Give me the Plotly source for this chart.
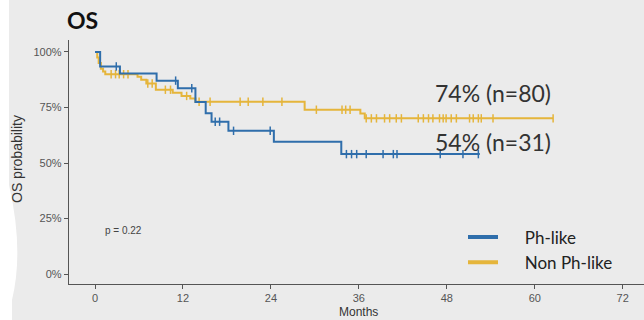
import plotly.graph_objects as go

# Ph-like group (n=31): months where the survival estimate steps, and the level after each step (%)
ph_time = [0, 0.7, 3.4, 8.4, 11.3, 13.7, 15.1, 15.9, 18.2, 24.4, 33.6, 52.5]
ph_surv = [100, 93.5, 90.3, 87.1, 83.7, 77.5, 72.4, 68.6, 64.5, 59.6, 54.0, 54.0]
ph_censor = [2.9, 11.0, 13.2, 16.4, 17.0, 18.9, 23.9, 34.3, 35.0, 35.7, 37.0,
             39.3, 40.7, 41.2, 47.1, 50.2, 52.3]

# Non Ph-like group (n=80)
nph_time = [0, 0.3, 0.5, 0.8, 1.1, 1.4, 5.8, 6.3, 7.0, 8.3, 10.6, 11.8, 13.0, 13.7,
            28.6, 36.2, 36.8, 62.5]
nph_surv = [100, 97.5, 95.0, 92.5, 91.2, 90.0, 88.8, 87.5, 85.8, 83.0, 81.6, 80.2, 79.0,
            77.6, 74.0, 72.3, 70.1, 70.1]
nph_censor = [2.2, 2.8, 3.3, 3.9, 4.5, 7.2, 7.8, 9.6, 10.3, 12.5, 14.2, 15.7, 19.8, 20.9,
              22.9, 25.5, 30.2, 33.7, 34.2, 34.8, 37.0, 37.7, 38.4, 39.5, 40.2, 41.1,
              41.8, 44.1, 44.8, 45.5, 46.1, 47.0, 47.5, 47.9, 48.6, 49.3, 51.1, 51.6,
              52.3, 52.7, 54.3, 62.5]

group_names = ["Ph-like", "Non Ph-like"]
group_labels = ["54% (n=31)", "74% (n=80)"]
x_ticks = [0, 12, 24, 36, 48, 60, 72]
y_ticks = [0, 25, 50, 75, 100]
y_tick_text = ["0%", "25%", "50%", "75%", "100%"]

BLUE = "#2f6eab"
GOLD = "#e5b53b"
BG = "#ebebeb"
AXIS = "#555555"
TICK_FONT = dict(family="Liberation Sans, Arial, sans-serif", size=11, color="#555555")


def level_at(times, surv, t):
    """Survival level of a right-continuous step curve at time t."""
    value = surv[0]
    for ti, si in zip(times, surv):
        if ti <= t:
            value = si
        else:
            break
    return value


fig = go.Figure()

for times, surv, cens, color in [
    (nph_time, nph_surv, nph_censor, GOLD),
    (ph_time, ph_surv, ph_censor, BLUE),
]:
    fig.add_trace(go.Scatter(
        x=times, y=surv, mode="lines", line=dict(color=color, width=2, shape="hv"),
        showlegend=False, hoverinfo="skip",
    ))
    fig.add_trace(go.Scatter(
        x=cens, y=[level_at(times, surv, t) for t in cens], mode="markers",
        marker=dict(symbol="line-ns", size=6, line=dict(color=color, width=1.5)),
        showlegend=False, hoverinfo="skip",
    ))

# legend entries with thicker key lines
for name, color in zip(group_names, [BLUE, GOLD]):
    fig.add_trace(go.Scatter(
        x=[None], y=[None], mode="lines", name="\u00a0" * 5 + name,
        line=dict(color=color, width=4),
    ))

fig.update_layout(
    width=644, height=320,
    margin=dict(l=69, r=0, t=40, b=36),
    paper_bgcolor=BG, plot_bgcolor=BG,
    title=dict(text="<b>OS</b>", x=67 / 644, xanchor="left", y=1 - 21 / 320, yanchor="middle",
               font=dict(family="Lato, sans-serif", size=23, color="#111111")),
    legend=dict(x=(463 - 69) / 575, xanchor="left", y=(284 - 250) / 244, yanchor="middle",
                bgcolor="rgba(0,0,0,0)", font=dict(family="Lato, sans-serif", size=17, color="#222222"),
                itemwidth=30, tracegroupgap=0),
    xaxis=dict(range=[-3.55, 74.9], tickvals=x_ticks, showgrid=False, zeroline=False,
               showline=True, linecolor=AXIS, linewidth=1.3, ticks="outside", ticklen=4,
               tickcolor=AXIS, tickwidth=1.3, tickfont=TICK_FONT),
    yaxis=dict(range=[-4.5, 105.4], tickvals=y_ticks, ticktext=y_tick_text, showgrid=False,
               zeroline=False, showline=True, linecolor=AXIS, linewidth=1.3, ticks="outside",
               ticklen=4, tickcolor=AXIS, tickwidth=1.3, tickfont=TICK_FONT),
)

# group summaries at the right end of the curves
for text, yv in zip(group_labels, [59.5, 81.5]):
    fig.add_annotation(x=54.3, y=yv, xref="x", yref="y", text=text, showarrow=False,
                       xanchor="center", yanchor="middle",
                       font=dict(family="Lato, sans-serif", size=23, color="#333333"))

fig.add_annotation(x=1.1, y=19.4, xref="x", yref="y", text="p = 0.22", showarrow=False,
                   xanchor="left", yanchor="middle",
                   font=dict(family="Liberation Sans, Arial, sans-serif", size=10, color="#444444"))

fig.add_annotation(x=(17 - 69) / 575, y=(284 - 159) / 244, xref="paper", yref="paper",
                   text="OS probability", textangle=-90, showarrow=False,
                   xanchor="center", yanchor="middle",
                   font=dict(family="Liberation Sans, Arial, sans-serif", size=14, color="#333333"))

fig.add_annotation(x=36, y=(284 - 312) / 244, xref="x", yref="paper", text="Months",
                   showarrow=False, xanchor="center", yanchor="middle",
                   font=dict(family="Liberation Sans, Arial, sans-serif", size=12, color="#333333"))

# white cut-out along the left border of the panel
def px(xp):
    return (xp - 69) / 575


def py(yp):
    return (284 - yp) / 244


cut = (f"M {px(-2)},{py(-2)} L {px(9)},{py(-2)} L {px(9)},{py(185)} "
       f"Q {px(24)},{py(250)} {px(12)},{py(300)} L {px(12)},{py(322)} L {px(-2)},{py(322)} Z")
fig.add_shape(type="path", path=cut, xref="paper", yref="paper",
              fillcolor="white", line=dict(width=0), layer="above")

fig.write_html("out.html")
